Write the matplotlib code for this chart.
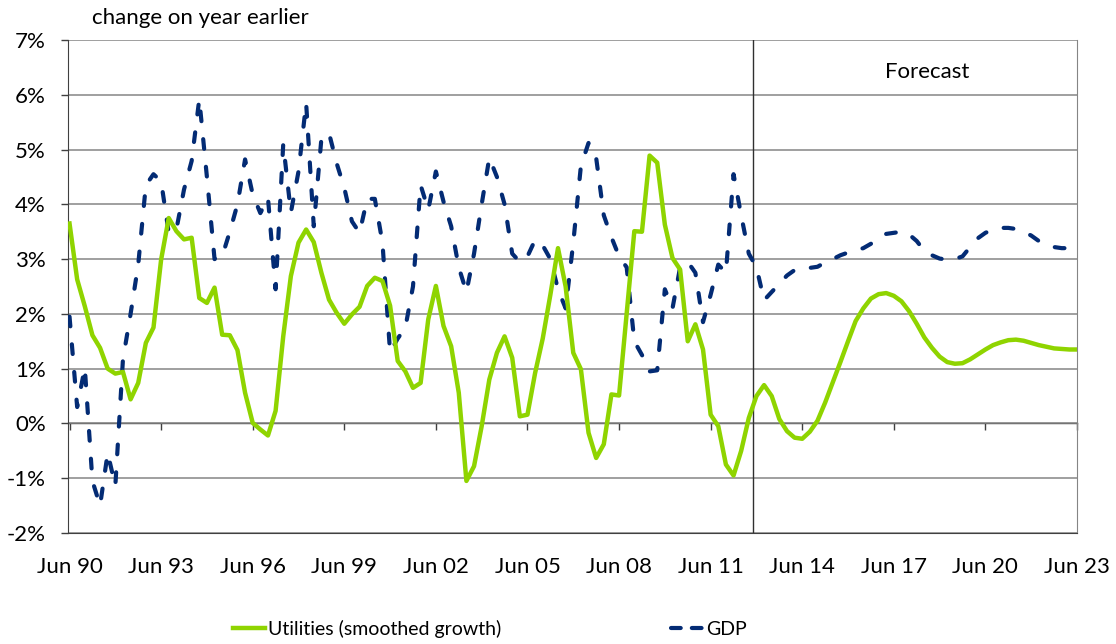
import matplotlib
matplotlib.use("Agg")
import matplotlib.pyplot as plt
import numpy as np
from matplotlib.lines import Line2D

# ---------------- data (quarterly, Jun 1990 .. Jun 2023) ----------------
tick_labels = ["Jun 90", "Jun 93", "Jun 96", "Jun 99", "Jun 02", "Jun 05",
               "Jun 08", "Jun 11", "Jun 14", "Jun 17", "Jun 20", "Jun 23"]

utilities = [
    3.65, 2.63, 2.14, 1.61, 1.38, 1.00, 0.91, 0.94, 0.44, 0.74,   # 0-9
    1.47, 1.75, 2.99, 3.75, 3.51, 3.36, 3.39, 2.29, 2.20, 2.48,   # 10-19
    1.62, 1.61, 1.34, 0.56, 0.01, -0.11, -0.22, 0.23, 1.59, 2.69, # 20-29
    3.30, 3.54, 3.31, 2.75, 2.26, 2.02, 1.82, 1.99, 2.13, 2.51,   # 30-39
    2.66, 2.60, 2.15, 1.14, 0.95, 0.65, 0.74, 1.90, 2.51, 1.78,   # 40-49
    1.41, 0.56, -1.05, -0.78, -0.05, 0.80, 1.29, 1.59, 1.20, 0.13, # 50-59
    0.16, 0.92, 1.55, 2.35, 3.20, 2.50, 1.29, 0.99, -0.17, -0.63, # 60-69
    -0.38, 0.53, 0.51, 2.02, 3.51, 3.50, 4.89, 4.76, 3.63, 3.02, # 70-79
    2.81, 1.50, 1.81, 1.35, 0.16, -0.05, -0.75, -0.95, -0.50, 0.10, # 80-89
    0.50, 0.70, 0.50, 0.08, -0.14, -0.26, -0.28, -0.15, 0.05, 0.38, # 90-99
    0.75, 1.12, 1.50, 1.87, 2.10, 2.28, 2.36, 2.38, 2.33, 2.23,   # 100-109
    2.05, 1.82, 1.57, 1.38, 1.22, 1.12, 1.09, 1.10, 1.17, 1.26,   # 110-119
    1.35, 1.43, 1.48, 1.52, 1.53, 1.51, 1.47, 1.43, 1.40, 1.37,   # 120-129
    1.36, 1.35, 1.35,                                             # 130-132
]

gdp = [
    1.95, 0.30, 1.02, -1.05, -1.50, -0.54, -1.14, 1.17, 2.00, 2.90, # 0-9
    4.35, 4.55, 4.42, 3.48, 3.54, 4.27, 4.79, 5.92, 4.50, 3.00,   # 10-19
    3.05, 3.50, 4.00, 4.82, 4.18, 3.84, 4.12, 2.45, 5.10, 3.85,   # 20-29
    4.60, 5.85, 3.60, 5.20, 5.30, 4.75, 4.30, 3.69, 3.48, 4.10,   # 30-39
    4.10, 3.30, 1.30, 1.55, 1.75, 2.50, 4.35, 3.90, 4.60, 4.05,   # 40-49
    3.60, 2.85, 2.40, 3.10, 4.00, 4.85, 4.50, 4.00, 3.10, 2.95,   # 50-59
    3.05, 3.35, 3.25, 3.00, 2.45, 2.10, 3.30, 4.70, 5.12, 4.85,   # 60-69
    3.80, 3.40, 3.05, 2.85, 1.50, 1.25, 0.95, 0.97, 2.45, 2.10,   # 70-79
    2.85, 2.95, 2.75, 1.85, 2.35, 2.90, 2.75, 4.55, 3.80, 3.10,   # 80-89
    2.85, 2.25, 2.40, 2.55, 2.70, 2.80, 2.84, 2.84, 2.86, 2.94,   # 90-99
    3.00, 3.07, 3.12, 3.16, 3.20, 3.28, 3.37, 3.46, 3.48, 3.50,   # 100-109
    3.45, 3.33, 3.15, 3.07, 3.01, 2.99, 3.00, 3.05, 3.22, 3.38,   # 110-119
    3.48, 3.54, 3.57, 3.57, 3.55, 3.50, 3.43, 3.33, 3.26, 3.22,   # 120-129
    3.20, 3.20, 3.20,                                             # 130-132
]

forecast_start = 89.5   # quarter index where forecast begins
series_labels = ["Utilities (smoothed growth)", "GDP"]

# ---------------- styling ----------------
plt.rcParams["font.family"] = ["Lato", "DejaVu Sans"]
plt.rcParams["lines.scale_dashes"] = False
GREEN = "#8FD400"
NAVY = "#032B74"
GRID = "#858585"
AXC = "#404040"
FS = 16
LFS = 14

fig = plt.figure(figsize=(11.16, 6.44), dpi=100)
ax = fig.add_axes([68 / 1116, 1 - 533 / 644, (1077 - 68) / 1116, (533 - 40) / 644])

q = np.arange(len(utilities))
ax.plot(q, gdp, color=NAVY, lw=3.0, dashes=(7, 13), dash_capstyle="round",
        zorder=3)
ax.plot(q, utilities, color=GREEN, lw=3.2, solid_joinstyle="round", zorder=4)

ax.set_xlim(-0.2, len(utilities) - 1)
ax.set_ylim(-2, 7)

# y axis
ax.set_yticks(np.arange(-2, 8, 1))
ax.set_yticklabels([f"{v}%" for v in range(-2, 8)])
ax.yaxis.grid(True, color=GRID, lw=1.1)
ax.set_axisbelow(True)
ax.tick_params(axis="y", length=5, width=1, color=AXC, pad=11, labelsize=FS)

# x axis labels at bottom, no tick marks
ax.set_xticks(np.arange(0, len(utilities), 12))
ax.set_xticklabels(tick_labels)
ax.tick_params(axis="x", length=0, pad=17, labelsize=FS)

ax.spines["top"].set_visible(False)
ax.spines["left"].set_color(AXC)
ax.spines["bottom"].set_color(AXC)
ax.spines["right"].set_color(GRID)

# zero line with tick marks
sec = ax.secondary_xaxis(2 / 9)
sec.set_xticks(np.arange(0, len(utilities), 12))
sec.set_xticklabels([])
sec.tick_params(axis="x", length=5, width=1, color=AXC, direction="out")
for s in sec.spines.values():
    s.set_color(AXC)
    s.set_linewidth(1.0)

# forecast divider
ax.axvline(forecast_start, color="#303030", lw=1.0, zorder=2)
ax.text(0.852, 0.935, "Forecast", transform=ax.transAxes, ha="center",
        va="center", fontsize=FS, color="black")

fig.text(92 / 1116, 1 - 18 / 644, "change on year earlier", ha="left",
         va="center", fontsize=FS)

handles = [Line2D([], [], color=GREEN, lw=3.2),
           Line2D([], [], color=NAVY, lw=3.0, dashes=(7, 8),
                  dash_capstyle="round")]
fig.legend(handles, series_labels, loc="center",
           bbox_to_anchor=(490 / 1116, 1 - 629 / 644),
           ncol=2, frameon=False, fontsize=LFS, handlelength=1.65,
           handletextpad=0.15, columnspacing=8.7)

fig.savefig("out.png", dpi=100)
